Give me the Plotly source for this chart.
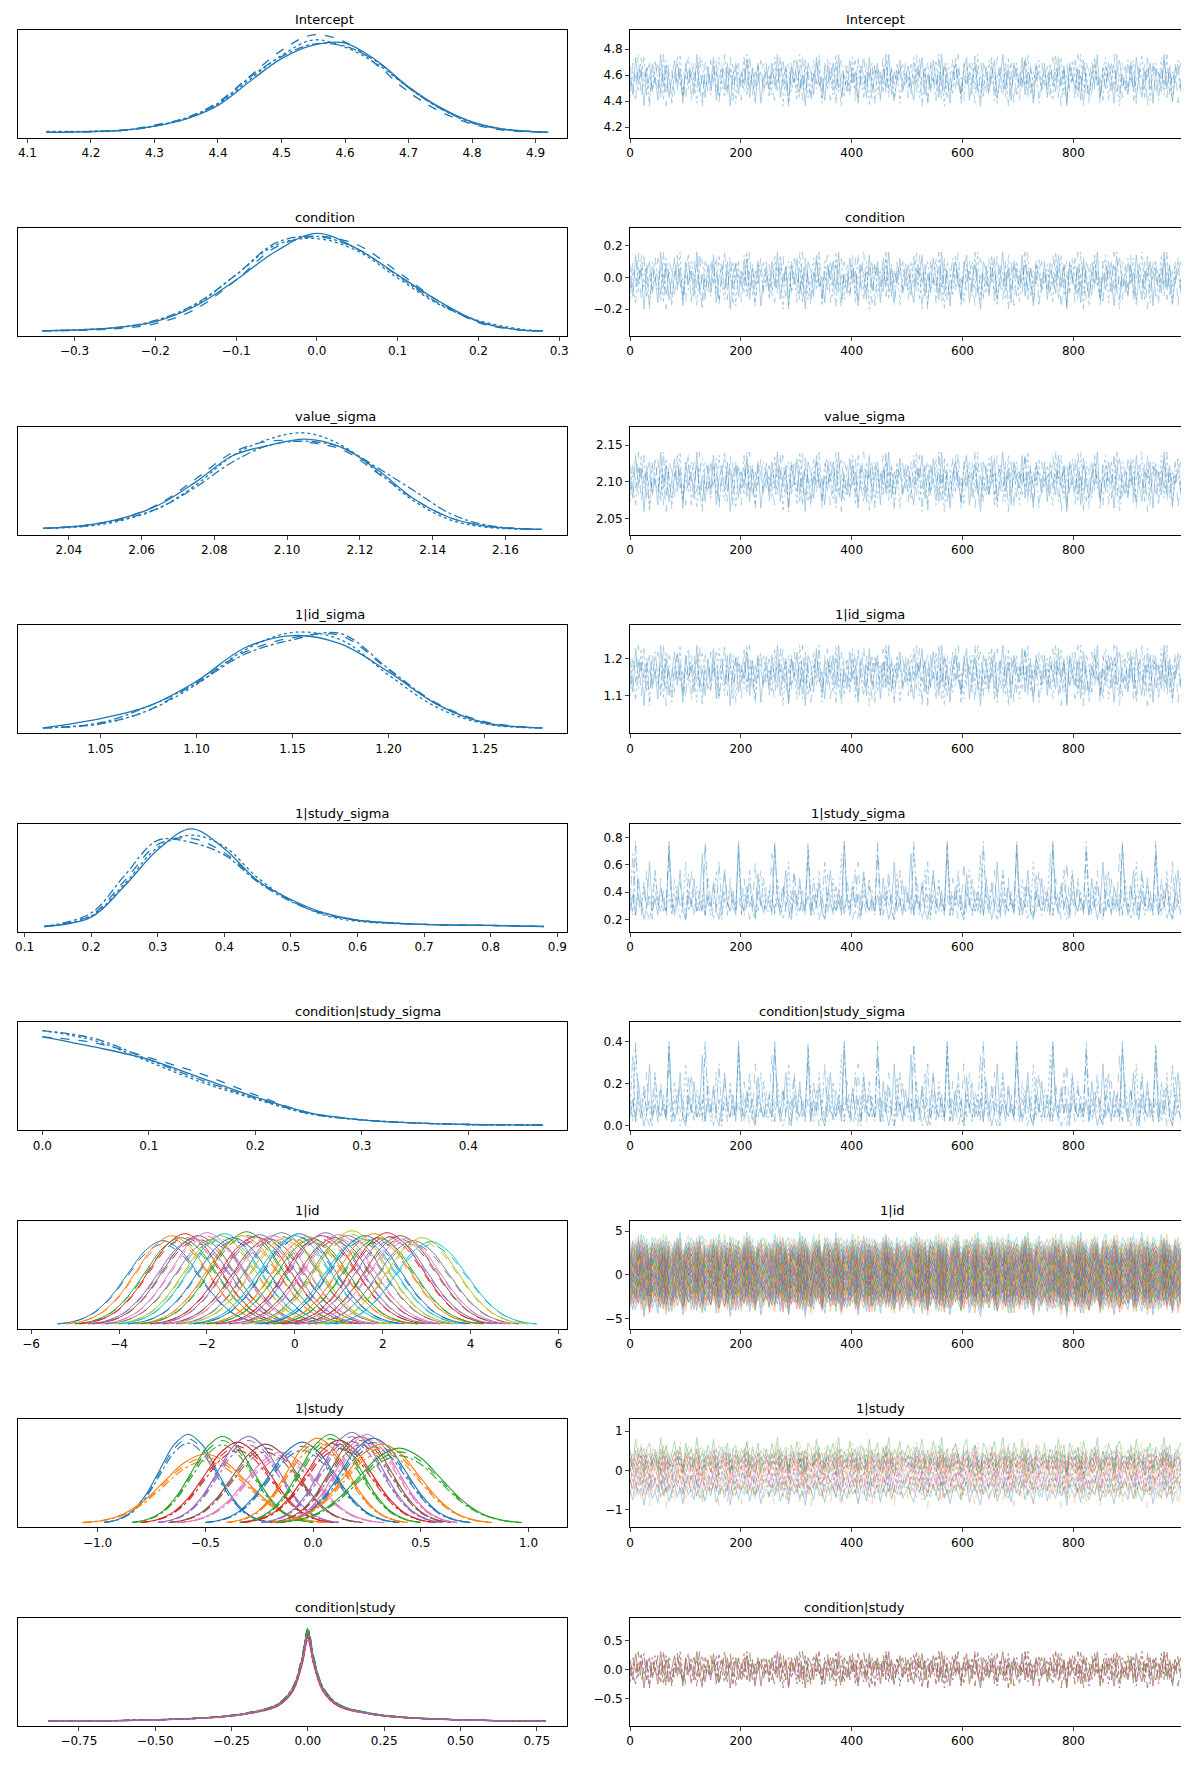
#!/usr/bin/env python3
import numpy as np
import plotly.graph_objects as go

W, H = 1189, 1789
TAB10 = ["#1f77b4", "#ff7f0e", "#2ca02c", "#d62728", "#9467bd",
         "#8c564b", "#e377c2", "#7f7f7f", "#bcbd22", "#17becf"]
DASHES = ["solid", "dash", "dashdot", "dot"]

# ---- single-variable posteriors: KDE grid + 4 chains ----
INTERCEPT_X = [4.13, 4.25, 4.3, 4.35, 4.4, 4.45, 4.5, 4.55, 4.6, 4.65, 4.7, 4.75, 4.8, 4.85, 4.92]
INTERCEPT_Y = [
    [0.01, 0.03, 0.07, 0.14, 0.27, 0.50, 0.72, 0.85, 0.87, 0.70, 0.45, 0.25, 0.11, 0.04, 0.01],
    [0.01, 0.03, 0.08, 0.15, 0.30, 0.55, 0.80, 0.95, 0.88, 0.66, 0.40, 0.21, 0.09, 0.03, 0.01],
    [0.01, 0.03, 0.07, 0.15, 0.29, 0.54, 0.74, 0.86, 0.84, 0.69, 0.44, 0.24, 0.10, 0.04, 0.01],
    [0.02, 0.03, 0.07, 0.14, 0.28, 0.52, 0.75, 0.90, 0.83, 0.67, 0.44, 0.24, 0.11, 0.04, 0.01],
]
CONDITION_X = [-0.34, -0.25, -0.2, -0.15, -0.1, -0.05, 0.0, 0.05, 0.1, 0.15, 0.2, 0.25, 0.28]
CONDITION_Y = [
    [0.01, 0.04, 0.10, 0.25, 0.50, 0.78, 0.95, 0.80, 0.55, 0.30, 0.10, 0.02, 0.01],
    [0.01, 0.03, 0.08, 0.22, 0.50, 0.82, 0.92, 0.84, 0.58, 0.30, 0.09, 0.02, 0.01],
    [0.01, 0.04, 0.11, 0.27, 0.55, 0.86, 0.92, 0.80, 0.54, 0.28, 0.10, 0.02, 0.01],
    [0.01, 0.04, 0.10, 0.26, 0.55, 0.84, 0.90, 0.78, 0.52, 0.27, 0.11, 0.03, 0.01],
]
VSIGMA_X = [2.033, 2.045, 2.055, 2.065, 2.075, 2.085, 2.095, 2.105, 2.115, 2.125, 2.135, 2.145, 2.155, 2.17]
VSIGMA_Y = [
    [0.02, 0.05, 0.12, 0.25, 0.47, 0.72, 0.82, 0.88, 0.80, 0.58, 0.30, 0.12, 0.04, 0.01],
    [0.02, 0.05, 0.12, 0.26, 0.50, 0.75, 0.86, 0.85, 0.78, 0.55, 0.30, 0.12, 0.04, 0.01],
    [0.02, 0.05, 0.11, 0.22, 0.42, 0.66, 0.82, 0.86, 0.80, 0.60, 0.38, 0.16, 0.05, 0.01],
    [0.02, 0.04, 0.10, 0.22, 0.44, 0.72, 0.88, 0.94, 0.82, 0.56, 0.28, 0.10, 0.03, 0.01],
]
IDSIGMA_X = [1.02, 1.05, 1.075, 1.1, 1.125, 1.15, 1.175, 1.2, 1.225, 1.25, 1.28]
IDSIGMA_Y = [
    [0.01, 0.10, 0.22, 0.46, 0.78, 0.90, 0.82, 0.55, 0.24, 0.06, 0.01],
    [0.01, 0.05, 0.18, 0.45, 0.74, 0.88, 0.90, 0.57, 0.25, 0.07, 0.01],
    [0.01, 0.06, 0.22, 0.44, 0.72, 0.86, 0.92, 0.58, 0.24, 0.06, 0.01],
    [0.01, 0.05, 0.18, 0.43, 0.76, 0.93, 0.86, 0.52, 0.21, 0.05, 0.01],
]
SSIGMA_X = [0.13, 0.2, 0.25, 0.3, 0.35, 0.4, 0.45, 0.5, 0.55, 0.6, 0.7, 0.8, 0.88]
SSIGMA_Y = [
    [0.01, 0.10, 0.40, 0.75, 0.95, 0.76, 0.45, 0.27, 0.14, 0.07, 0.03, 0.02, 0.01],
    [0.01, 0.12, 0.45, 0.80, 0.86, 0.72, 0.45, 0.26, 0.13, 0.07, 0.03, 0.02, 0.01],
    [0.01, 0.14, 0.50, 0.84, 0.82, 0.70, 0.44, 0.25, 0.13, 0.07, 0.03, 0.02, 0.01],
    [0.01, 0.11, 0.42, 0.77, 0.89, 0.78, 0.48, 0.26, 0.12, 0.06, 0.03, 0.02, 0.01],
]
CSSIGMA_X = [0.0, 0.05, 0.1, 0.15, 0.2, 0.25, 0.3, 0.35, 0.4, 0.47]
CSSIGMA_Y = [
    [0.86, 0.76, 0.64, 0.46, 0.28, 0.13, 0.06, 0.03, 0.015, 0.01],
    [0.86, 0.80, 0.66, 0.50, 0.30, 0.13, 0.06, 0.03, 0.015, 0.01],
    [0.92, 0.84, 0.64, 0.44, 0.27, 0.12, 0.06, 0.03, 0.015, 0.01],
    [0.92, 0.82, 0.62, 0.42, 0.26, 0.12, 0.06, 0.03, 0.015, 0.01],
]

# ---- group-level effects: shape profiles + read-off centres ----
GAUSS_X = [-3, -2.5, -2, -1.5, -1, -0.5, 0, 0.5, 1, 1.5, 2, 2.5, 3]
GAUSS_Y = [0.011, 0.044, 0.135, 0.325, 0.607, 0.882, 1, 0.882, 0.607, 0.325, 0.135, 0.044, 0.011]
SPIKE_X = [-0.85, -0.5, -0.3, -0.2, -0.1, -0.05, -0.02, 0, 0.02, 0.05, 0.1, 0.2, 0.3, 0.5, 0.78]
SPIKE_Y = [0.005, 0.02, 0.05, 0.09, 0.18, 0.35, 0.65, 0.95, 0.65, 0.35, 0.18, 0.09, 0.05, 0.02, 0.005]

ID_CENTERS = [-3.0, -2.8, -2.6, -2.5, -2.3, -2.2, -2.0, -1.9, -1.7, -1.6, -1.4, -1.2, -1.1, -0.9,
              -0.8, -0.6, -0.5, -0.3, -0.2, 0.0, 0.1, 0.3, 0.4, 0.6, 0.7, 0.9, 1.0, 1.2, 1.3, 1.5,
              1.6, 1.8, 1.9, 2.1, 2.2, 2.4, 2.5, 2.7, 2.9, 3.1]
ID_HEIGHTS = [0.85, 0.9, 0.88, 0.92, 0.87, 0.9, 0.93, 0.86, 0.9, 0.92, 0.88, 0.9, 0.94, 0.89,
              0.91, 0.87, 0.9, 0.93, 0.88, 0.9, 0.92, 0.89, 0.87, 0.9, 0.93, 0.88, 0.91, 0.9, 0.95, 0.87,
              0.9, 0.92, 0.88, 0.93, 0.89, 0.9, 0.87, 0.85, 0.88, 0.84]
STUDY_CENTERS = [-0.58, -0.5, -0.42, -0.35, -0.3, -0.22, -0.15, -0.05, 0.02, 0.08, 0.12,
                 0.18, 0.22, 0.25, 0.28, 0.32, 0.4]
STUDY_HEIGHTS = [0.90, 0.70, 0.88, 0.82, 0.88, 0.80, 0.72, 0.82, 0.86, 0.90, 0.84,
                 0.92, 0.88, 0.90, 0.86, 0.80, 0.76]
STUDY_SD = [0.13, 0.19, 0.14, 0.15, 0.14, 0.15, 0.16, 0.15, 0.14, 0.14, 0.15,
            0.14, 0.14, 0.14, 0.15, 0.17, 0.19]
CSTUDY_HEIGHTS = [0.92, 0.88, 0.95, 0.86, 0.9, 0.93, 0.87, 0.91, 0.89, 0.94, 0.88, 0.9]

# ---- trace panels: typed wiggle sequences ----
NOISE = [
    [0.2, -0.5, 0.8, -0.1, 0.4, -0.9, 0.3, 0.6, -0.4, 0.1, -0.7, 0.9, -0.2, 0.5, -0.6, 0.0, 0.7, -0.3,
     0.4, -0.8, 0.6, -0.1, 0.3, -0.5, 0.9, -0.4, 0.2, -0.6, 0.5, -0.2, 0.8, -0.7, 0.1, 0.4, -0.3, 0.6,
     -0.9, 0.2, 0.5, -0.5, 0.3, -0.1, 0.7, -0.6, 0.4, -0.2, 0.6, -0.8, 0.1, 0.3],
    [-0.3, 0.6, -0.2, 0.9, -0.6, 0.1, 0.4, -0.8, 0.5, -0.1, 0.7, -0.4, 0.2, -0.9, 0.6, 0.3, -0.5, 0.8,
     -0.2, 0.1, -0.7, 0.5, 0.0, 0.6, -0.3, 0.9, -0.6, 0.2, -0.4, 0.7, -0.1, 0.3, -0.8, 0.5, 0.2, -0.6,
     0.8, -0.3, 0.1, 0.6, -0.7, 0.4, -0.2, 0.9, -0.5, 0.3, -0.1, 0.7, -0.4, 0.0],
    [0.5, -0.2, -0.7, 0.4, 0.1, 0.8, -0.5, 0.2, -0.3, 0.7, 0.0, -0.6, 0.9, -0.4, 0.3, -0.8, 0.2, 0.6,
     -0.1, -0.5, 0.4, 0.8, -0.7, 0.1, 0.5, -0.2, -0.9, 0.6, 0.3, -0.4, 0.2, 0.7, -0.6, 0.0, 0.9, -0.3,
     0.4, -0.7, 0.6, 0.1, -0.2, 0.8, -0.5, 0.3, 0.0, -0.8, 0.5, 0.2, -0.3, 0.6],
    [-0.6, 0.3, 0.1, -0.4, 0.8, -0.2, 0.5, -0.9, 0.6, 0.2, -0.3, 0.4, -0.7, 0.7, 0.0, -0.5, 0.3, -0.1,
     0.9, -0.6, 0.2, -0.3, 0.6, 0.1, -0.8, 0.4, 0.7, -0.2, 0.0, -0.5, 0.5, -0.4, 0.8, -0.1, -0.6, 0.3,
     0.1, 0.6, -0.8, 0.4, 0.2, -0.4, 0.9, -0.3, 0.5, -0.7, 0.1, 0.3, 0.6, -0.2],
]
SKEW = [0.1, 0.3, 0.05, 0.5, 0.2, 0.0, 0.15, 0.7, 0.1, 0.25, 0.05, 0.4, 0.2, 0.1, 0.9, 0.3, 0.05,
        0.2, 0.6, 0.1, 0.0, 0.35, 0.15, 0.5, 0.1, 0.2, 0.8, 0.05, 0.3, 0.15, 0.45, 0.1, 0.0, 0.25,
        0.6, 0.2, 0.1, 0.35, 0.05, 0.95, 0.2, 0.1, 0.4, 0.15, 0.3, 0.05, 0.55, 0.2, 0.1, 0.25]

TITLES = ["Intercept", "condition", "value_sigma", "1|id_sigma", "1|study_sigma",
          "condition|study_sigma", "1|id", "1|study", "condition|study"]


def domains(i):
    top = 19 + 174.75 * i
    bot = top + 95
    return [1 - bot / 1572, 1 - top / 1572]


def chain_seq(c, src):
    # chain c walks the typed sequences in its own order
    out = []
    for k in range(4):
        out += src[(c + k) % 4]
    return out


def main():
    fig = go.Figure()
    layout = {}
    annotations = []

    def axes(row, col, xr, yr, xticks, yticks, xfmt=None, yfmt=None):
        n = row * 2 + col + 1
        xs = "" if n == 1 else str(n)
        dom_x = [0.005, 0.469] if col == 0 else [0.522, 0.99]
        common = dict(showline=True, linecolor="black", linewidth=1, mirror=True, ticks="outside",
                      ticklen=4, showgrid=False, zeroline=False, tickfont=dict(size=12, color="black"))
        xd = dict(domain=dom_x, range=xr, anchor="y" + xs, tickvals=xticks, **common)
        if xfmt:
            xd["tickformat"] = xfmt
        layout["xaxis" + xs] = xd
        ydict = dict(domain=domains(row), range=yr, anchor="x" + xs, **common)
        if yticks is None:
            ydict.update(showticklabels=False, ticks="")
        else:
            ydict.update(tickvals=yticks)
            if yfmt:
                ydict["tickformat"] = yfmt
        layout["yaxis" + xs] = ydict
        annotations.append(dict(text=TITLES[row], x=sum(dom_x) / 2, y=domains(row)[1], xref="paper",
                                yref="paper", yanchor="bottom", showarrow=False, yshift=1,
                                font=dict(size=13, color="black")))
        return "x" + xs, "y" + xs

    draws = np.linspace(0, 999, 200)
    skew4 = [SKEW, SKEW[12:] + SKEW[:12], SKEW[25:] + SKEW[:25], SKEW[37:] + SKEW[:37]]

    singles = [
        (INTERCEPT_X, INTERCEPT_Y, [4.085, 4.95], [4.1, 4.2, 4.3, 4.4, 4.5, 4.6, 4.7, 4.8, 4.9], ".1f",
         4.56, 0.22, [4.12, 4.95], [4.2, 4.4, 4.6, 4.8], ".1f"),
        (CONDITION_X, CONDITION_Y, [-0.37, 0.31], [-0.3, -0.2, -0.1, 0.0, 0.1, 0.2, 0.3], ".1f",
         -0.02, 0.2, [-0.37, 0.31], [-0.2, 0.0, 0.2], ".1f"),
        (VSIGMA_X, VSIGMA_Y, [2.026, 2.177], [2.04, 2.06, 2.08, 2.1, 2.12, 2.14, 2.16], ".2f",
         2.10, 0.045, [2.028, 2.175], [2.05, 2.10, 2.15], ".2f"),
        (IDSIGMA_X, IDSIGMA_Y, [1.007, 1.293], [1.05, 1.1, 1.15, 1.2, 1.25], ".2f",
         1.155, 0.09, [1.0, 1.29], [1.1, 1.2], ".1f"),
        (SSIGMA_X, SSIGMA_Y, [0.09, 0.915], [0.1, 0.2, 0.3, 0.4, 0.5, 0.6, 0.7, 0.8, 0.9], ".1f",
         0.2, 0.6, [0.11, 0.9], [0.2, 0.4, 0.6, 0.8], ".1f"),
        (CSSIGMA_X, CSSIGMA_Y, [-0.023, 0.493], [0.0, 0.1, 0.2, 0.3, 0.4], ".1f",
         0.0, 0.42, [-0.02, 0.49], [0.0, 0.2, 0.4], ".1f"),
    ]

    for row, (kx, ky, xr, xt, xf, centre, spread, tyr, tyt, yf) in enumerate(singles):
        xa, ya = axes(row, 0, xr, [-0.04, 1.0], xt, None, xfmt=xf)
        for c in range(4):
            fig.add_trace(go.Scatter(x=kx, y=ky[c], mode="lines", xaxis=xa, yaxis=ya,
                                     line=dict(color=TAB10[0], width=1.3, dash=DASHES[c], shape="spline"),
                                     showlegend=False))
        xa, ya = axes(row, 1, [0, 1000], tyr, [0, 200, 400, 600, 800], tyt, yfmt=yf)
        for c in range(4):
            if row >= 4:
                # sigma parameters: bounded below, long upper tail
                vals = [centre + spread * v for v in chain_seq(c, skew4)]
            else:
                vals = [centre + spread * v for v in chain_seq(c, NOISE)]
            fig.add_trace(go.Scatter(x=draws, y=vals, mode="lines", xaxis=xa, yaxis=ya, opacity=0.45,
                                     line=dict(color=TAB10[0], width=0.8, dash=DASHES[c]), showlegend=False))

    # 1|id
    xa, ya = axes(6, 0, [-6.3, 6.2], [-0.04, 1.05], [-6, -4, -2, 0, 2, 4, 6], None)
    xb, yb = axes(6, 1, [0, 1000], [-6.2, 6.2], [0, 200, 400, 600, 800], [-5, 0, 5])
    for j, (m, h) in enumerate(zip(ID_CENTERS, ID_HEIGHTS)):
        col = TAB10[j % 10]
        for c in range(2):
            fig.add_trace(go.Scatter(x=[m + 0.8 * g for g in GAUSS_X], y=[h * (1 - 0.04 * c) * g for g in GAUSS_Y],
                                     mode="lines", xaxis=xa, yaxis=ya, showlegend=False,
                                     line=dict(color=col, width=1, dash=DASHES[c], shape="spline")))
        fig.add_trace(go.Scatter(x=draws, y=[m + 2.0 * v for v in chain_seq(j % 4, NOISE)], mode="lines",
                                 xaxis=xb, yaxis=yb, opacity=0.5, showlegend=False,
                                 line=dict(color=col, width=0.8)))

    # 1|study
    xa, ya = axes(7, 0, [-1.37, 1.18], [-0.04, 1.05], [-1.0, -0.5, 0.0, 0.5, 1.0], None, xfmt=".1f")
    xb, yb = axes(7, 1, [0, 1000], [-1.45, 1.3], [0, 200, 400, 600, 800], [-1, 0, 1])
    for j, (m, h, s) in enumerate(zip(STUDY_CENTERS, STUDY_HEIGHTS, STUDY_SD)):
        col = TAB10[j % 7]
        for c in range(3):
            fig.add_trace(go.Scatter(x=[m + s * g for g in GAUSS_X], y=[h * (1 - 0.05 * c) * g for g in GAUSS_Y],
                                     mode="lines", xaxis=xa, yaxis=ya, showlegend=False,
                                     line=dict(color=col, width=1.1, dash=DASHES[c], shape="spline")))
        fig.add_trace(go.Scatter(x=draws, y=[m + 2.6 * s * v for v in chain_seq(j % 4, NOISE)], mode="lines",
                                 xaxis=xb, yaxis=yb, opacity=0.45, showlegend=False,
                                 line=dict(color=col, width=0.8, dash=DASHES[j % 4])))

    # condition|study
    xa, ya = axes(8, 0, [-0.95, 0.85], [-0.04, 1.0], [-0.75, -0.5, -0.25, 0.0, 0.25, 0.5, 0.75], None,
                  xfmt=".2f")
    xb, yb = axes(8, 1, [0, 1000], [-0.97, 0.9], [0, 200, 400, 600, 800], [-0.5, 0.0, 0.5], yfmt=".1f")
    for j, h in enumerate(CSTUDY_HEIGHTS):
        col = TAB10[j % 7]
        for c in range(2):
            fig.add_trace(go.Scatter(x=SPIKE_X, y=[h * (1 - 0.04 * c) * v for v in SPIKE_Y], mode="lines",
                                     xaxis=xa, yaxis=ya, showlegend=False,
                                     line=dict(color=col, width=1.1, dash=DASHES[(j + c) % 4], shape="spline")))
        fig.add_trace(go.Scatter(x=draws, y=[0.35 * v for v in chain_seq(j % 4, NOISE)], mode="lines",
                                 xaxis=xb, yaxis=yb, opacity=0.45, showlegend=False,
                                 line=dict(color=col, width=0.8, dash=DASHES[j % 4])))

    fig.update_layout(
        width=W, height=H,
        margin=dict(l=0, r=0, t=0, b=0),
        paper_bgcolor="white", plot_bgcolor="white",
        font=dict(family="DejaVu Sans", color="black"),
        annotations=annotations,
        **layout,
    )
    fig.write_html("out.html")


if __name__ == "__main__":
    main()
